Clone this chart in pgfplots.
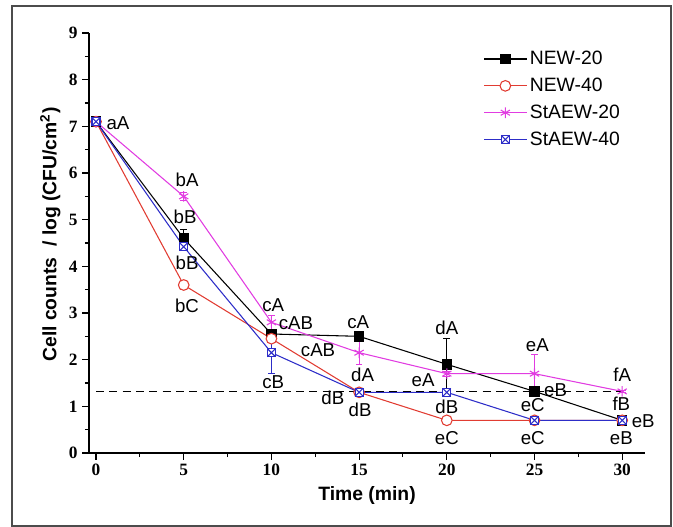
\documentclass[border=0pt]{standalone}
\usepackage{pgfplots}
\pgfplotsset{compat=1.18}
\usetikzlibrary{plotmarks}
\usepackage{fontspec}
\setmainfont{Liberation Sans}
\newfontfamily\tickfont{Liberation Serif}
\definecolor{cred}{RGB}{225,60,50}
\definecolor{cmag}{RGB}{225,60,225}
\definecolor{cblue}{RGB}{45,45,200}
\pgfdeclareplotmark{boxtimes}{%
 \pgfpathrectangle{\pgfqpoint{-\pgfplotmarksize}{-\pgfplotmarksize}}{\pgfqpoint{2\pgfplotmarksize}{2\pgfplotmarksize}}%
 \pgfusepathqfillstroke
 \pgfpathmoveto{\pgfqpoint{-\pgfplotmarksize}{-\pgfplotmarksize}}\pgfpathlineto{\pgfqpoint{\pgfplotmarksize}{\pgfplotmarksize}}%
 \pgfpathmoveto{\pgfqpoint{-\pgfplotmarksize}{\pgfplotmarksize}}\pgfpathlineto{\pgfqpoint{\pgfplotmarksize}{-\pgfplotmarksize}}%
 \pgfusepathqstroke}
\pgfplotstableread{
x y e
0 7.1 0
5 4.6 0.2
10 2.55 0.05
15 2.5 0.05
20 1.9 0.55
25 1.32 0.05
30 0.7 0
}\newtwenty
\pgfplotstableread{
x y e
0 7.1 0
5 3.6 0.1
10 2.45 0.05
15 1.3 0
20 0.7 0
25 0.7 0
30 0.7 0
}\newforty
\pgfplotstableread{
x y e
0 7.1 0
5 5.5 0.08
10 2.8 0.15
15 2.15 0.25
20 1.7 0.05
25 1.7 0.42
30 1.32 0.03
}\stwenty
\pgfplotstableread{
x y e
0 7.1 0
5 4.42 0.08
10 2.15 0.45
15 1.3 0
20 1.3 0
25 0.7 0
30 0.7 0
}\sforty
\begin{document}
\begin{tikzpicture}
\begin{axis}[
  at={(0,0)}, anchor=south west,
  scale only axis, width=417pt, height=315pt,
  xmin=-0.4, xmax=31.3, ymin=0, ymax=9,
  axis lines*=left,
  axis line style={line width=0.9pt},
  tick align=outside, tick style={line width=0.8pt, black},
  major tick length=5pt, minor tick length=3pt,
  xtick={0,5,...,30}, ytick={0,1,...,9},
  minor x tick num=1, minor y tick num=1,
  tick label style={font=\tickfont\bfseries\fontsize{13}{15}\selectfont},
  /pgf/number format/assume math mode=true,
  xlabel={\bfseries Time (min)},
  ylabel={\bfseries Cell counts\ \ / log (CFU/cm\textsuperscript{2})},
  label style={font=\fontsize{14.5}{17}\selectfont},
  xlabel style={at={(rel axis cs:0.5,0)}, anchor=center, yshift=-32pt},
  ylabel style={at={(rel axis cs:0,0.52)}, anchor=center, rotate=0, yshift=29pt},
  clip=false,
  legend style={at={(axis cs:22.0,8.70)}, anchor=north west, draw=none, fill=none,
    font=\fontsize{14.5}{16}\selectfont, row sep=4.5pt, inner sep=1pt},
  legend cell align=left,
  legend image code/.code={\draw[#1, mark repeat=2, mark phase=2] plot coordinates {(0pt,0pt) (16pt,0pt) (32pt,0pt)};},
  error bars/error bar style={line width=0.6pt},
  error bars/error mark options={rotate=90, mark size=2.5pt, line width=0.6pt},
]
\addplot[black, line width=0.8pt, mark=square*, mark size=3.5pt, mark options={solid},
  error bars/.cd, y dir=both, y explicit] table[x=x, y=y, y error=e]{\newtwenty};
\addlegendentry{NEW-20}
\addplot[cred, line width=0.8pt, mark=*, mark size=4pt, mark options={fill=white},
  error bars/.cd, y dir=both, y explicit] table[x=x, y=y, y error=e]{\newforty};
\addlegendentry{NEW-40}
\addplot[cmag, line width=0.8pt, mark=asterisk, mark size=4pt,
  error bars/.cd, y dir=both, y explicit] table[x=x, y=y, y error=e]{\stwenty};
\addlegendentry{StAEW-20}
\addplot[cblue, line width=0.8pt, mark=boxtimes, mark size=3pt, mark options={fill=white},
  error bars/.cd, y dir=both, y explicit] table[x=x, y=y, y error=e]{\sforty};
\addlegendentry{StAEW-40}
\addplot[black, line width=0.8pt, dash pattern=on 6pt off 4pt, forget plot] coordinates {(0,1.32) (30,1.32)};
\begin{scope}[every node/.style={font=\fontsize{14}{16}\selectfont, inner sep=0pt}]
\node at (axis cs:1.25,7.07) {aA};
\node at (axis cs:5.19,5.85) {bA};
\node at (axis cs:5.08,5.06) {bB};
\node at (axis cs:5.19,4.07) {bB};
\node at (axis cs:5.19,3.15) {bC};
\node at (axis cs:10.1,3.17) {cA};
\node at (axis cs:11.4,2.79) {cAB};
\node at (axis cs:12.66,2.21) {cAB};
\node at (axis cs:10.1,1.52) {cB};
\node at (axis cs:14.95,2.81) {cA};
\node at (axis cs:15.2,1.67) {dA};
\node at (axis cs:13.5,1.18) {dB};
\node at (axis cs:15.06,0.92) {dB};
\node at (axis cs:18.65,1.56) {eA};
\node at (axis cs:20.0,2.68) {dA};
\node at (axis cs:20.0,0.99) {dB};
\node at (axis cs:20.0,0.32) {eC};
\node at (axis cs:25.16,2.31) {eA};
\node at (axis cs:26.2,1.35) {eB};
\node at (axis cs:24.9,1.03) {eC};
\node at (axis cs:24.9,0.32) {eC};
\node at (axis cs:30.0,1.67) {fA};
\node at (axis cs:29.95,1.05) {fB};
\node at (axis cs:31.2,0.69) {eB};
\node at (axis cs:29.95,0.32) {eB};
\end{scope}
\end{axis}
\draw[black!70, line width=1pt] (-57.75pt,-54.75pt) rectangle (436.5pt,335.25pt);
\path (-66.75pt,-55.5pt) rectangle (438pt,339.75pt);
\end{tikzpicture}
\end{document}
